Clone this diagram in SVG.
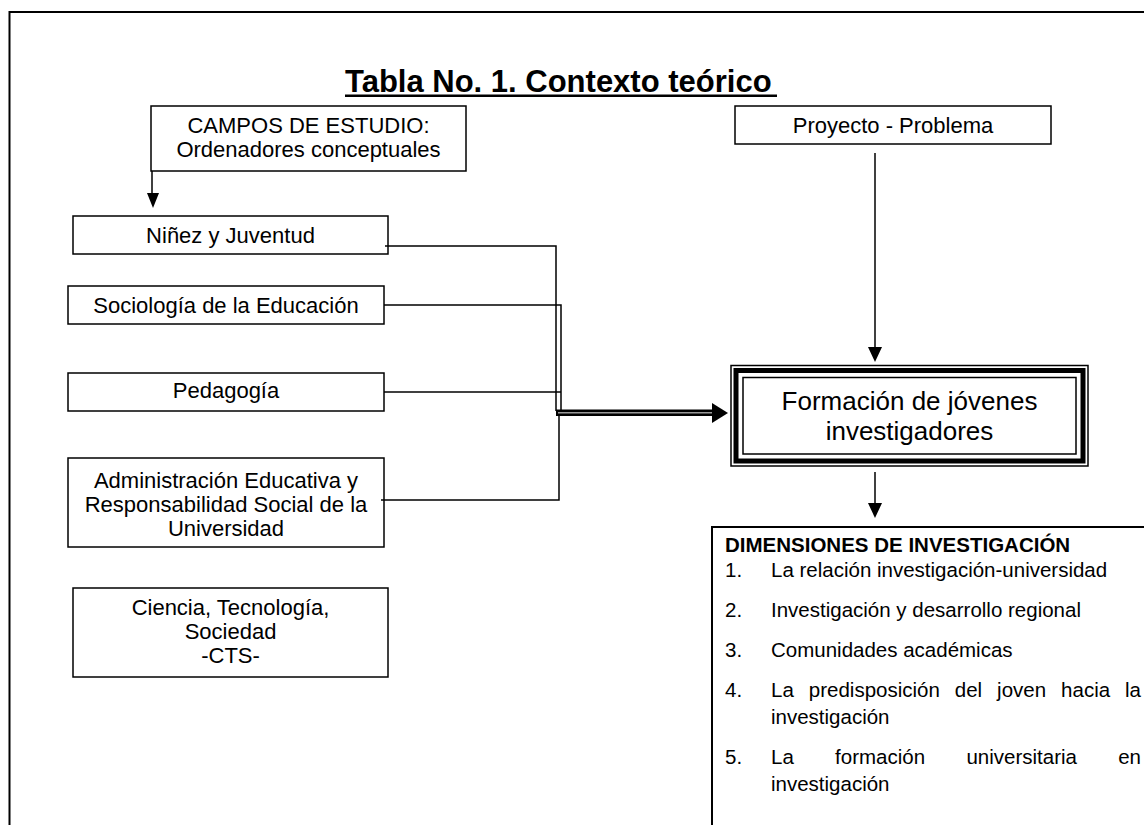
<svg xmlns="http://www.w3.org/2000/svg" width="1144" height="825" viewBox="0 0 1144 825">
<style>
  .box { fill: #fff; stroke: #000; stroke-width: 1.5; }
  .t { font-family: "Liberation Sans", Arial, sans-serif; font-size: 22px; fill: #000; }
  .c { text-anchor: middle; }
  .d { font-family: "Liberation Sans", Arial, sans-serif; font-size: 20.5px; fill: #000; }
  .ln { fill: none; stroke: #000; stroke-width: 1.5; }
  .head { fill: #000; }
</style>
<rect width="1144" height="825" fill="#fff"/>
<g id="frame">
  <path d="M9.5 825 V12 H1144" fill="none" stroke="#000" stroke-width="2"/>
</g>
<g id="title">
  <text x="345" y="92" font-family="Liberation Sans, Arial, sans-serif" font-size="31" font-weight="bold" fill="#000">Tabla No. 1. Contexto teórico</text>
  <rect x="345" y="94.5" width="432" height="2.5" fill="#000"/>
</g>
<g id="campos">
  <rect class="box" x="151" y="106" width="315" height="65"/>
  <text class="t c" x="308.5" y="133">CAMPOS DE ESTUDIO:</text>
  <text class="t c" x="308.5" y="157">Ordenadores conceptuales</text>
</g>
<g id="ninez">
  <rect class="box" x="73" y="216" width="315" height="38"/>
  <text class="t c" x="230.5" y="243">Niñez y Juventud</text>
</g>
<g id="sociologia">
  <rect class="box" x="68" y="286" width="316" height="38"/>
  <text class="t c" x="226" y="313">Sociología de la Educación</text>
</g>
<g id="pedagogia">
  <rect class="box" x="68" y="373" width="316" height="38" stroke-width="2"/>
  <text class="t c" x="226" y="398">Pedagogía</text>
</g>
<g id="administracion">
  <rect class="box" x="68" y="458" width="316" height="89"/>
  <text class="t c" x="226" y="488">Administración Educativa y</text>
  <text class="t c" x="226" y="512">Responsabilidad Social de la</text>
  <text class="t c" x="226" y="536">Universidad</text>
</g>
<g id="cts">
  <rect class="box" x="73" y="588" width="315" height="89"/>
  <text class="t c" x="230.5" y="615">Ciencia, Tecnología,</text>
  <text class="t c" x="230.5" y="639">Sociedad</text>
  <text class="t c" x="230.5" y="663">-CTS-</text>
</g>
<g id="proyecto">
  <rect class="box" x="735" y="106" width="316" height="38"/>
  <text class="t c" x="893" y="133">Proyecto - Problema</text>
</g>
<g id="formacion">
  <rect x="731" y="365.5" width="357" height="100.5" fill="#fff" stroke="#000" stroke-width="1.5"/>
  <rect x="736" y="370.5" width="347" height="90.5" fill="none" stroke="#000" stroke-width="5"/>
  <rect x="743" y="377.5" width="333" height="76.5" fill="none" stroke="#000" stroke-width="1.5"/>
  <text x="909.5" y="410" text-anchor="middle" font-family="Liberation Sans, Arial, sans-serif" font-size="26" fill="#000">Formación de jóvenes</text>
  <text x="909.5" y="440" text-anchor="middle" font-family="Liberation Sans, Arial, sans-serif" font-size="26" fill="#000">investigadores</text>
</g>
<g id="dimensiones">
  <path d="M712 825 V527 H1144" fill="none" stroke="#000" stroke-width="2"/>
  <text x="725" y="552" font-family="Liberation Sans, Arial, sans-serif" font-size="20.5" font-weight="bold" fill="#000">DIMENSIONES DE INVESTIGACIÓN</text>
  <text class="d" x="725" y="577">1.</text>
  <text class="d" x="771" y="577">La relación investigación-universidad</text>
  <text class="d" x="725" y="617">2.</text>
  <text class="d" x="771" y="617">Investigación y desarrollo regional</text>
  <text class="d" x="725" y="657">3.</text>
  <text class="d" x="771" y="657">Comunidades académicas</text>
  <text class="d" x="725" y="697">4.</text>
  <text class="d" y="697"><tspan x="771">La</tspan><tspan x="808.8">predisposición</tspan><tspan x="954.8">del</tspan><tspan x="997.1">joven</tspan><tspan x="1061.1">hacia</tspan><tspan x="1141" text-anchor="end">la</tspan></text>
  <text class="d" x="771" y="724">investigación</text>
  <text class="d" x="725" y="764">5.</text>
  <text class="d" y="764"><tspan x="771">La</tspan><tspan x="835.1">formación</tspan><tspan x="966.4">universitaria</tspan><tspan x="1141" text-anchor="end">en</tspan></text>
  <text class="d" x="771" y="791">investigación</text>
</g>
<g id="connectors">
  <path class="ln" d="M152 171 V194"/>
  <polygon class="head" points="147,193 159,193 153,208"/>
  <path class="ln" d="M385 246 H556 V411"/>
  <path class="ln" d="M384 305 H561 V413"/>
  <path class="ln" d="M384 392 H561"/>
  <path class="ln" d="M381 500 H559 V415"/>
  <rect x="556" y="409.5" width="160" height="6.5" fill="#000"/>
  <line x1="558" y1="412.75" x2="714" y2="412.75" stroke="#999" stroke-width="1.5"/>
  <polygon class="head" points="712,403 728,413 712,423"/>
  <path class="ln" d="M875 153 V348"/>
  <polygon class="head" points="868,347 882,347 875,362"/>
  <path class="ln" d="M875 472 V504"/>
  <polygon class="head" points="868,503 882,503 875,518"/>
</g>
</svg>
